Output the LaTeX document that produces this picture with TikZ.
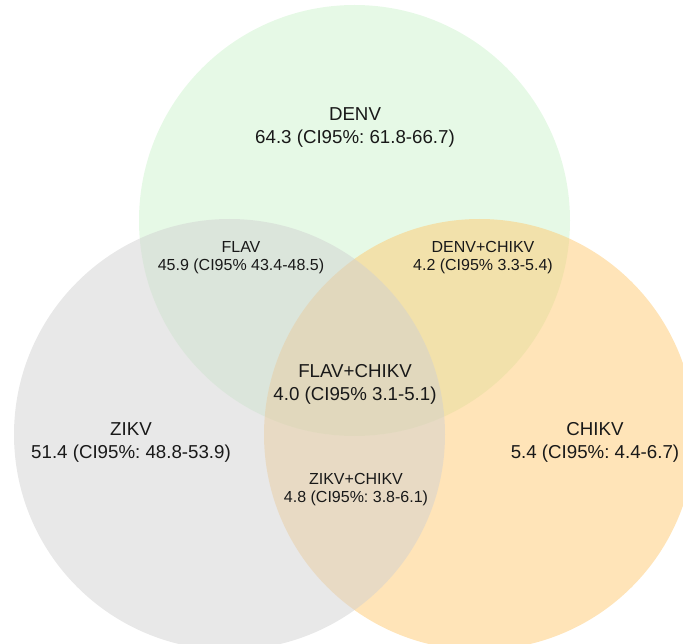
\documentclass[tikz,border=0pt]{standalone}
\usepackage{fontspec}
\setmainfont{Liberation Sans}
\frenchspacing
\definecolor{denvfill}{RGB}{205,243,205}
\definecolor{zikvfill}{RGB}{209,209,209}
\definecolor{chikvfill}{RGB}{255,201,113}
\tikzset{
  set/.style={fill opacity=0.5},
  big/.style={anchor=base, align=center, text=black!90, font=\fontsize{18.7}{23}\selectfont},
  small/.style={anchor=base, align=center, text=black!90, font=\fontsize{16}{17.7}\selectfont}
}
\begin{document}
\begin{tikzpicture}[x=1pt,y=-1pt]
\useasboundingbox (0,0) rectangle (683,644);
\clip (0,0) rectangle (683,644);
\coordinate (cdenv) at (354.5,220.5);
\coordinate (czikv) at (229.5,434.5);
\coordinate (cchikv) at (479.5,434.5);
\fill[denvfill,set] (cdenv) circle (215.5pt);
\fill[chikvfill,set] (cchikv) circle (215.5pt);
\fill[zikvfill,set] (czikv) circle (215.5pt);
\node[big] (denv) at (355,143.5) {DENV\\64.3 (CI95\%: 61.8-66.7)};
\node[small] (flav) at (241,270.7) {FLAV\\45.9 (CI95\% 43.4-48.5)};
\node[small] (denvchikv) at (483,270.7) {DENV+CHIKV\\4.2 (CI95\% 3.3-5.4)};
\node[big] (flavchikv) at (355,400.5) {FLAV+CHIKV\\4.0 (CI95\% 3.1-5.1)};
\node[big] (zikv) at (131,458.5) {ZIKV\\51.4 (CI95\%: 48.8-53.9)};
\node[big] (chikv) at (595,458.5) {CHIKV\\5.4 (CI95\%: 4.4-6.7)};
\node[small] (zikvchikv) at (356,502.2) {ZIKV+CHIKV\\4.8 (CI95\%: 3.8-6.1)};
\end{tikzpicture}
\end{document}
